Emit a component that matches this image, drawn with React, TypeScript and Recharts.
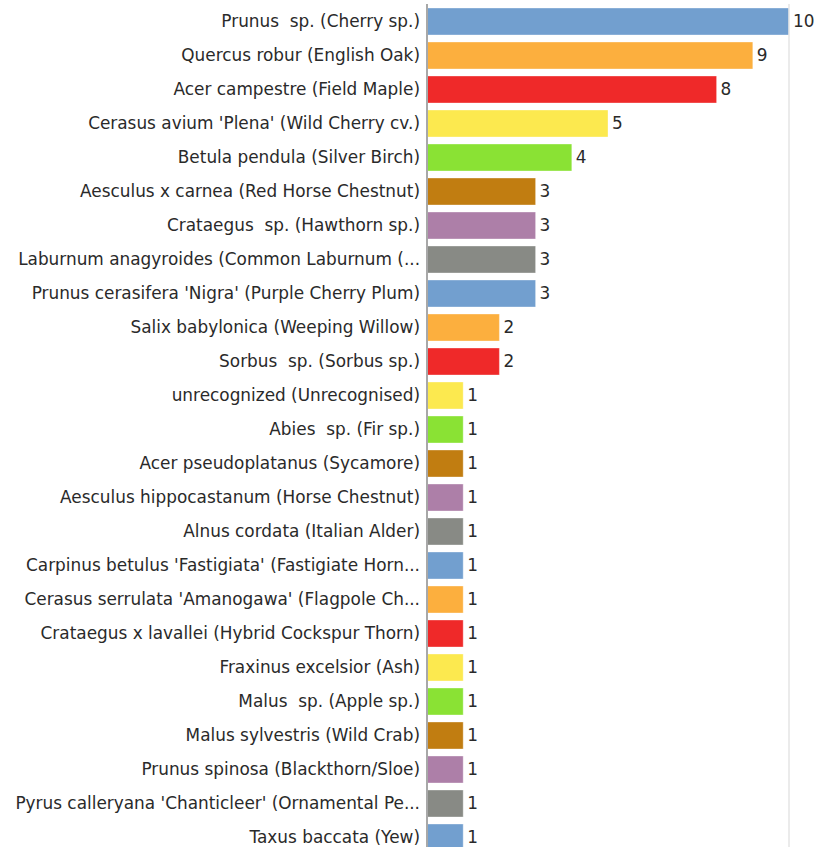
import React from 'react';
import { BarChart, Bar, XAxis, YAxis, Cell, LabelList, ReferenceLine } from 'recharts';

const species = [
  "Prunus  sp. (Cherry sp.)",
  "Quercus robur (English Oak)",
  "Acer campestre (Field Maple)",
  "Cerasus avium 'Plena' (Wild Cherry cv.)",
  "Betula pendula (Silver Birch)",
  "Aesculus x carnea (Red Horse Chestnut)",
  "Crataegus  sp. (Hawthorn sp.)",
  "Laburnum anagyroides (Common Laburnum (...",
  "Prunus cerasifera 'Nigra' (Purple Cherry Plum)",
  "Salix babylonica (Weeping Willow)",
  "Sorbus  sp. (Sorbus sp.)",
  "unrecognized (Unrecognised)",
  "Abies  sp. (Fir sp.)",
  "Acer pseudoplatanus (Sycamore)",
  "Aesculus hippocastanum (Horse Chestnut)",
  "Alnus cordata (Italian Alder)",
  "Carpinus betulus 'Fastigiata' (Fastigiate Horn...",
  "Cerasus serrulata 'Amanogawa' (Flagpole Ch...",
  "Crataegus x lavallei (Hybrid Cockspur Thorn)",
  "Fraxinus excelsior (Ash)",
  "Malus  sp. (Apple sp.)",
  "Malus sylvestris (Wild Crab)",
  "Prunus spinosa (Blackthorn/Sloe)",
  "Pyrus calleryana 'Chanticleer' (Ornamental Pe...",
  "Taxus baccata (Yew)",
];

const counts = [10, 9, 8, 5, 4, 3, 3, 3, 3, 2, 2, 1, 1, 1, 1, 1, 1, 1, 1, 1, 1, 1, 1, 1, 1];

const palette = ['#729fcf', '#fcaf3e', '#ef2929', '#fce94f', '#8ae234', '#c17d11', '#ad7fa8', '#888a85'];

const data = species.map((name, i) => ({ name, value: counts[i] }));

const FONT = 16.9;

const Tick = (props: any) => {
  const { x, y, payload } = props;
  return (
    <text
      x={x + 1}
      y={y}
      dy={6}
      textAnchor="end"
      fill="#2a2a2a"
      fontSize={FONT}
      fontFamily="DejaVu Sans"
      style={{ whiteSpace: 'pre' }}
    >
      {payload.value}
    </text>
  );
};

export default function App() {
  return (
    <div style={{ position: 'absolute', left: 0, top: 0 }}>
      <BarChart
        width={816}
        height={860}
        data={data}
        layout="vertical"
        margin={{ top: 4, right: 27, bottom: 6, left: 0 }}
      >
        <XAxis type="number" domain={[0, 10]} hide />
        <YAxis
          type="category"
          dataKey="name"
          width={427}
          tick={<Tick />}
          tickLine={false}
          axisLine={{ stroke: '#a8a8a8', strokeWidth: 2 }}
          interval={0}
        />
        <ReferenceLine x={10} stroke="#e4e4e4" strokeWidth={1.5} />
        <Bar dataKey="value" barSize={27} isAnimationActive={false} stroke="#ffffff" strokeOpacity={0.35} strokeWidth={1}>
          {data.map((d, i) => (
            <Cell key={i} fill={palette[i % palette.length]} />
          ))}
          <LabelList
            dataKey="value"
            position="right"
            offset={4}
            fill="#2a2a2a"
            fontSize={FONT}
            fontFamily="DejaVu Sans"
          />
        </Bar>
      </BarChart>
    </div>
  );
}
